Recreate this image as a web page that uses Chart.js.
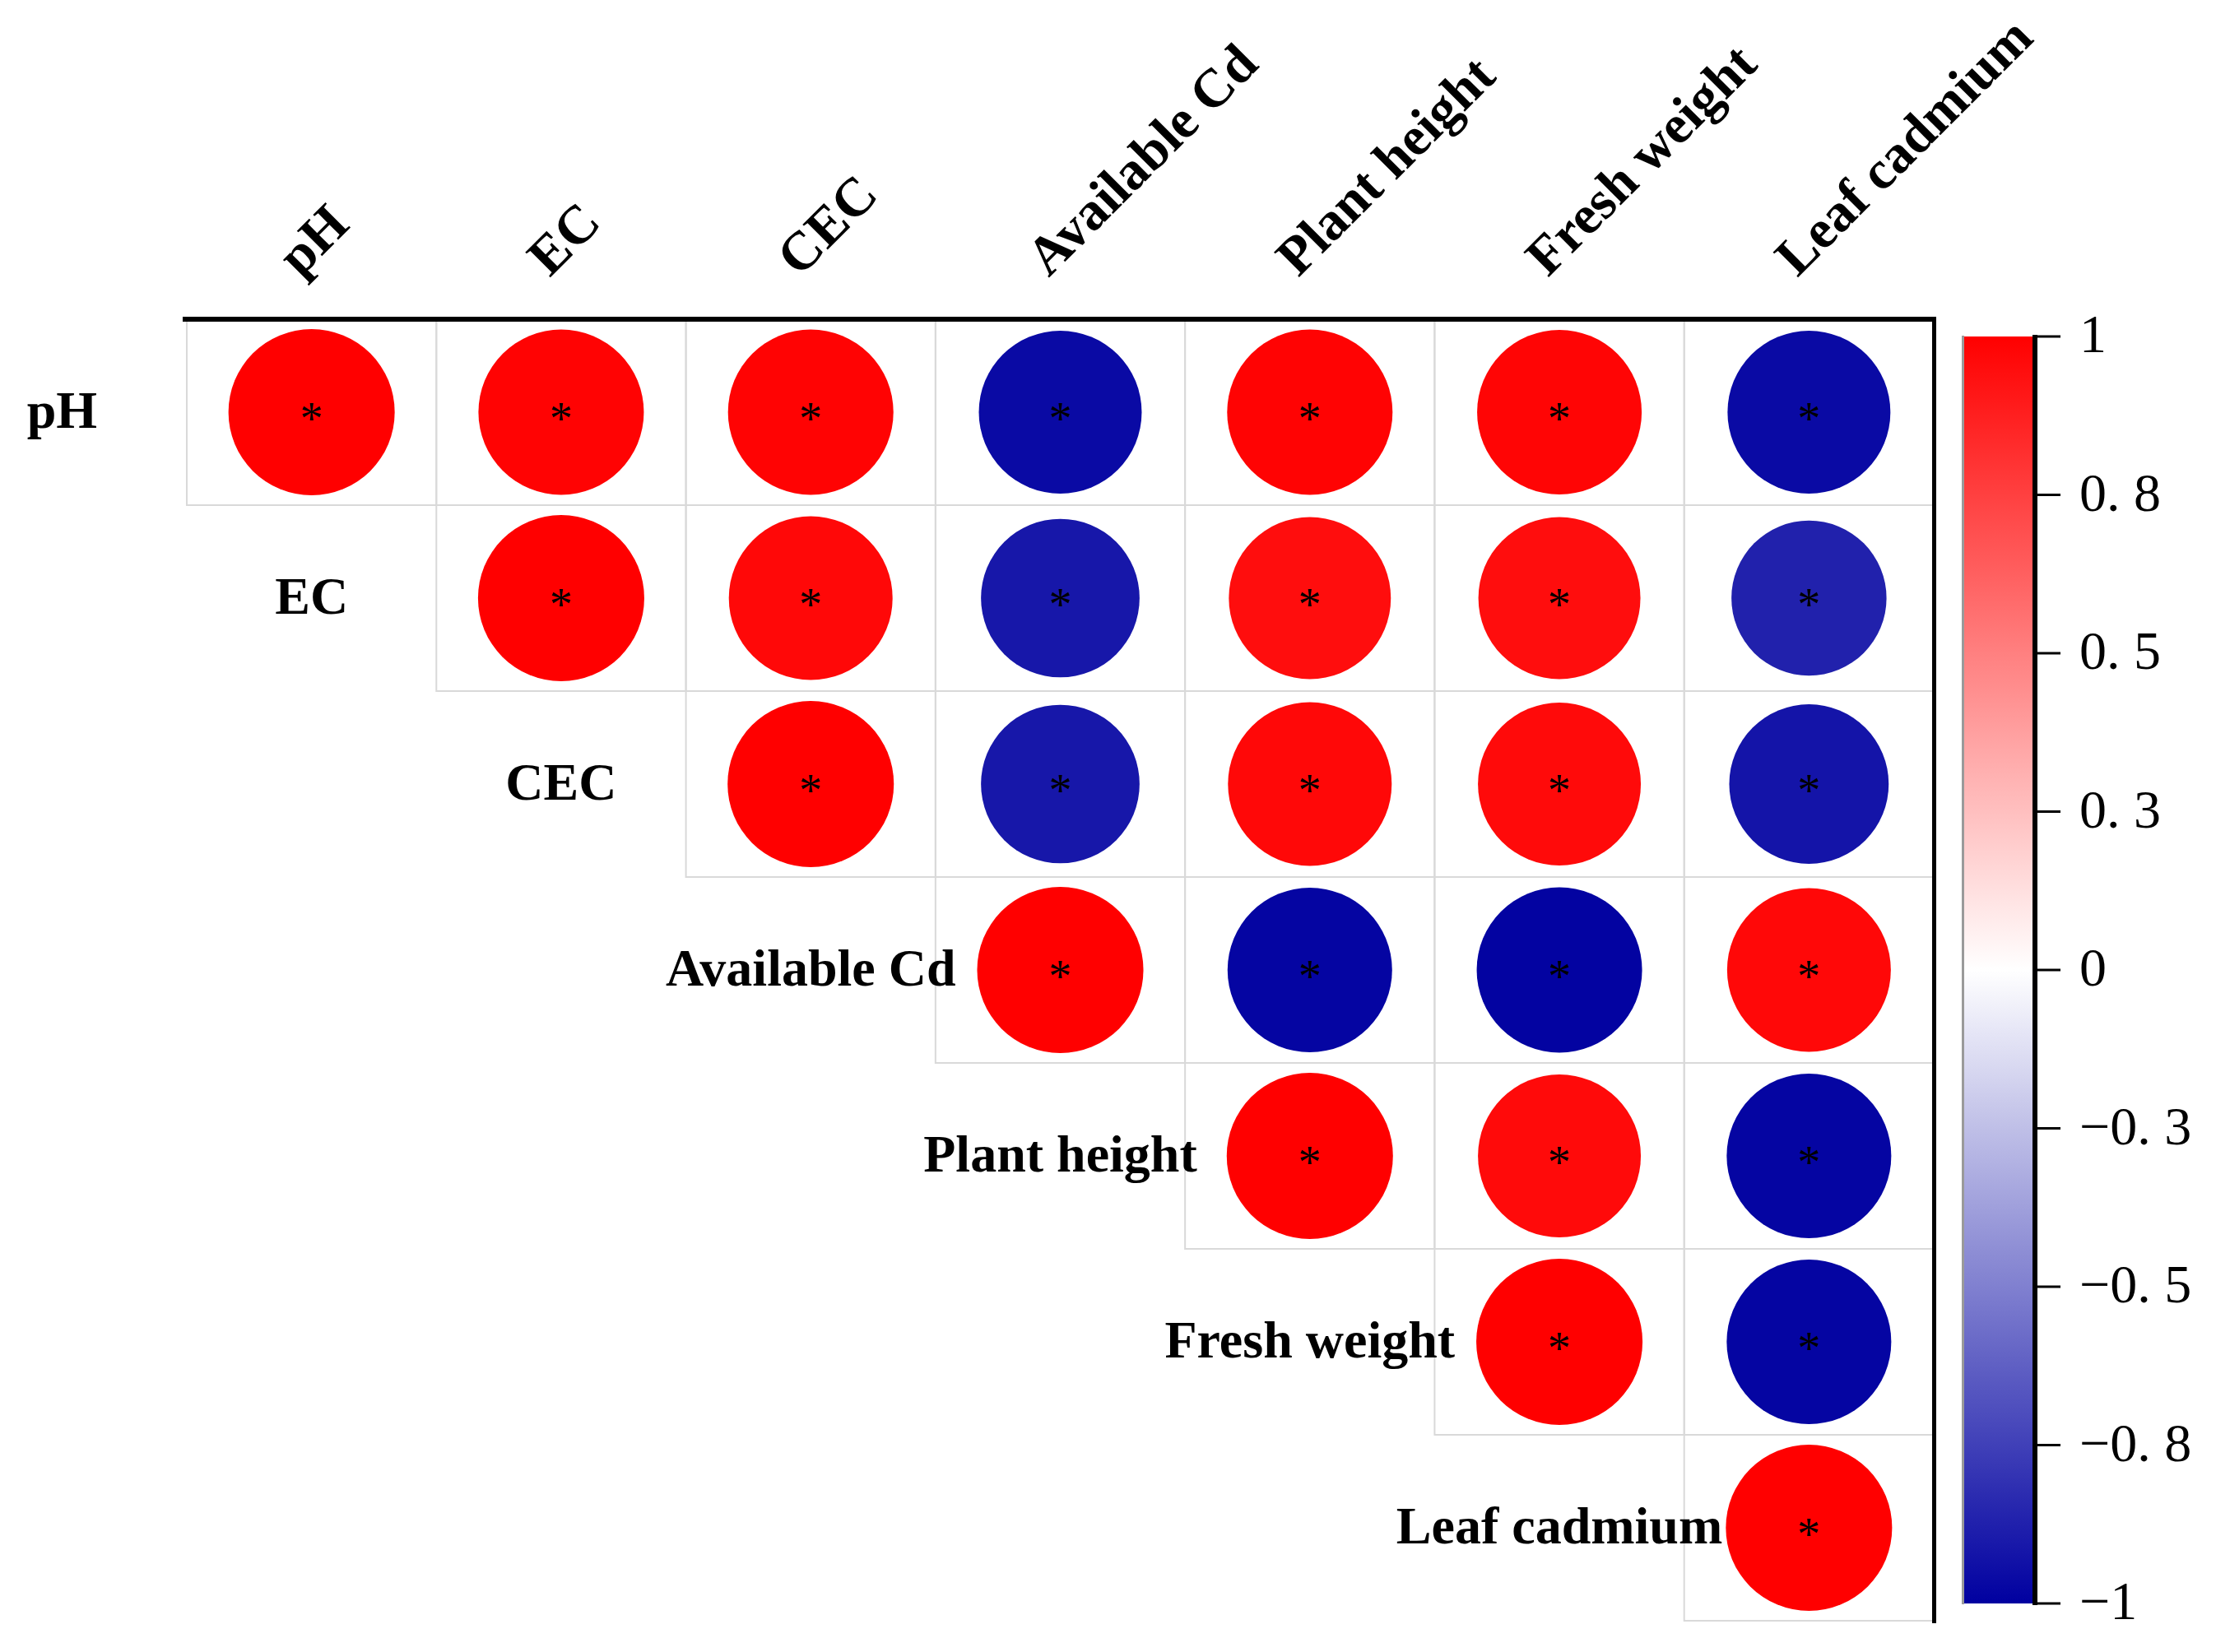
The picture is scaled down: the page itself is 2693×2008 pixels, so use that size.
<!DOCTYPE html>
<html>
<head>
<meta charset="utf-8">
<title>Correlation plot</title>
<script src="https://cdn.jsdelivr.net/npm/chart.js@4.4.1/dist/chart.umd.min.js"></script>
<style>
  html, body { margin: 0; padding: 0; background: #fff; }
  canvas { display: block; }
</style>
</head>
<body>
<canvas id="corrChart" width="2693" height="2008"></canvas>
<script>
// variables in plot order
var variables = ["pH", "EC", "CEC", "Available Cd", "Plant height", "Fresh weight", "Leaf cadmium"];

// upper triangle of the correlation matrix, each row starts at its diagonal
var corrPH     = [1, 0.99, 0.99, -0.96, 0.99, 0.98, -0.96];
var corrEC     = [1, 0.97, -0.91, 0.95, 0.95, -0.87];
var corrCEC    = [1, -0.91, 0.97, 0.96, -0.92];
var corrAvCd   = [1, -0.98, -0.99, 0.97];
var corrHeight = [1, 0.96, -0.98];
var corrWeight = [1, -0.98];
var corrLeafCd = [1];
var corrRows = [corrPH, corrEC, corrCEC, corrAvCd, corrHeight, corrWeight, corrLeafCd];

// colour bar ticks
var barTicks  = [1, 0.75, 0.5, 0.25, 0, -0.25, -0.5, -0.75, -1];
var barLabels = ["1", "0. 8", "0. 5", "0. 3", "0", "\u22120. 3", "\u22120. 5", "\u22120. 8", "\u22121"];

var FONT = "'Liberation Serif', 'Times New Roman', serif";
var N = variables.length;

function corrColor(v) {
  var t = Math.min(1, Math.abs(v));
  var r, g, b;
  if (v >= 0) {
    r = 255; g = 255 * (1 - t); b = 255 * (1 - t);
  } else {
    r = 255 * (1 - t); g = 255 * (1 - t); b = 255 - (255 - 160) * t;
  }
  return "rgb(" + Math.round(r) + "," + Math.round(g) + "," + Math.round(b) + ")";
}

// one point per upper-triangle cell
var points = [];
corrRows.forEach(function (row, i) {
  row.forEach(function (v, k) {
    points.push({ x: i + k, y: i, v: v });
  });
});

function cellSize(chart) {
  var xs = chart.scales.x, ys = chart.scales.y;
  return {
    w: Math.abs(xs.getPixelForValue(1) - xs.getPixelForValue(0)),
    h: Math.abs(ys.getPixelForValue(1) - ys.getPixelForValue(0))
  };
}

// light grid on the upper triangle + heavy frame lines
var gridPlugin = {
  id: "corrGrid",
  beforeDatasetsDraw: function (chart) {
    var ctx = chart.ctx, xs = chart.scales.x, ys = chart.scales.y, a = chart.chartArea;
    var c = cellSize(chart);
    ctx.save();
    ctx.strokeStyle = "#d9d9d9";
    ctx.lineWidth = 2;
    for (var i = 0; i < N; i++) {
      for (var j = i; j < N; j++) {
        ctx.strokeRect(xs.getPixelForValue(j) - c.w / 2, ys.getPixelForValue(i) - c.h / 2, c.w, c.h);
      }
    }
    ctx.fillStyle = "#000";
    ctx.fillRect(a.left - 5, a.top - 3, a.right - a.left + 7, 6);
    ctx.fillRect(a.right - 2, a.top - 3, 5, a.bottom - a.top + 6);
    ctx.restore();
  }
};

// asterisks and variable labels
var labelPlugin = {
  id: "corrLabels",
  afterDatasetsDraw: function (chart) {
    var ctx = chart.ctx, xs = chart.scales.x, ys = chart.scales.y, a = chart.chartArea;
    var meta = chart.getDatasetMeta(0);
    ctx.save();
    ctx.fillStyle = "#000";
    ctx.textAlign = "center";
    ctx.textBaseline = "alphabetic";
    ctx.font = "56px " + FONT;
    meta.data.forEach(function (pt) {
      ctx.fillText("*", pt.x, pt.y + 27);
    });

    ctx.font = "bold 64px " + FONT;
    ctx.textBaseline = "middle";
    variables.forEach(function (name, i) {
      ctx.fillText(name, xs.getPixelForValue(i - 1), ys.getPixelForValue(i) + 2);
    });

    ctx.font = "bold 66px " + FONT;
    ctx.textAlign = "left";
    ctx.textBaseline = "alphabetic";
    variables.forEach(function (name, i) {
      ctx.save();
      ctx.translate(xs.getPixelForValue(i) - 14, a.top - 50);
      ctx.rotate(-Math.PI / 4);
      ctx.fillText(name, 0, 0);
      ctx.restore();
    });
    ctx.restore();
  }
};

// colour bar on the right
var colorbarPlugin = {
  id: "corrColorbar",
  afterDraw: function (chart) {
    var ctx = chart.ctx, a = chart.chartArea;
    var bx = a.right + 37, bw = 83;
    var top = a.top + 21, bot = a.bottom - 21;
    ctx.save();
    var grad = ctx.createLinearGradient(0, top, 0, bot);
    for (var s = 0; s <= 40; s++) {
      grad.addColorStop(s / 40, corrColor(1 - s / 20));
    }
    ctx.fillStyle = grad;
    ctx.fillRect(bx, top, bw, bot - top);
    ctx.fillStyle = "#9a9a9a";
    ctx.fillRect(bx - 3, top - 1, 3, bot - top + 2);
    ctx.fillStyle = "#000";
    ctx.fillRect(bx + bw, top - 2, 6, bot - top + 4);

    ctx.strokeStyle = "#000";
    ctx.lineWidth = 3;
    ctx.font = "66px " + FONT;
    ctx.textAlign = "left";
    ctx.textBaseline = "middle";
    barTicks.forEach(function (v, k) {
      var y = top + (1 - v) / 2 * (bot - top);
      ctx.beginPath();
      ctx.moveTo(bx + bw + 6, y);
      ctx.lineTo(bx + bw + 34, y);
      ctx.stroke();
      ctx.fillText(barLabels[k], bx + bw + 57, y + 2);
    });
    ctx.restore();
  }
};

var ctx = document.getElementById("corrChart").getContext("2d");
new Chart(ctx, {
  type: "scatter",
  data: {
    datasets: [{
      data: points,
      pointRadius: function (c) {
        if (!c.raw) return 0;
        var a = c.chart.chartArea;
        var ch = a ? (a.bottom - a.top) / N : 226;
        return Math.sqrt(Math.abs(c.raw.v)) * ch * 0.447;
      },
      pointHoverRadius: function (c) {
        if (!c.raw) return 0;
        var a = c.chart.chartArea;
        var ch = a ? (a.bottom - a.top) / N : 226;
        return Math.sqrt(Math.abs(c.raw.v)) * ch * 0.447;
      },
      pointBackgroundColor: function (c) { return c.raw ? corrColor(c.raw.v) : "#fff"; },
      pointBorderWidth: 0,
      pointBorderColor: "rgba(0,0,0,0)"
    }]
  },
  options: {
    responsive: false,
    animation: false,
    events: [],
    layout: {
      autoPadding: false,
      padding: { left: 227, right: 343, top: 388, bottom: 38 }
    },
    scales: {
      x: { type: "linear", min: -0.5, max: N - 0.5, display: false },
      y: { type: "linear", min: -0.5, max: N - 0.5, reverse: true, display: false }
    },
    plugins: {
      legend: { display: false },
      tooltip: { enabled: false }
    }
  },
  plugins: [gridPlugin, labelPlugin, colorbarPlugin]
});
</script>
</body>
</html>
